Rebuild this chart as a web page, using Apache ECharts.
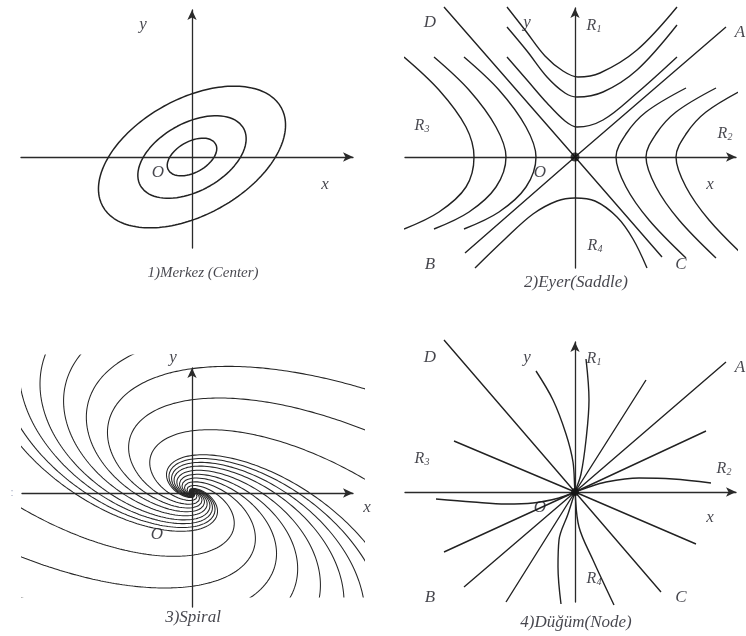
<!DOCTYPE html>
<html>
<head>
<meta charset="utf-8">
<script src="https://cdn.jsdelivr.net/npm/echarts@6/dist/echarts.min.js"></script>
<style>
html, body { margin: 0; padding: 0; background: #ffffff; }
#chart { width: 746px; height: 636px; }
</style>
</head>
<body>
<div id="chart"></div>
<script>
// ---------- 1) Centre: concentric tilted ellipses around O ----------
const centerSemiMajor = [102, 59, 27];
const centerSemiMinor = [58, 34, 15.5];
const centerTiltDeg = [29, 29, 29];

// ---------- 2) Saddle: separatrices and hyperbolic trajectories ----------
const saddleSeparatrices = [
  [[151, 130], [0, 0], [-110, -96]],   // A - B
  [[-131, 150], [0, 0], [87, -100]]    // D - C
];
const saddleR1 = [
  [[-68, 150], [-50, 127], [-30, 101], [-12, 86], [3, 80], [25, 84], [62, 107], [102, 150]],
  [[-68, 130], [-48, 106], [-28, 80], [-10, 64], [2, 60], [28, 65], [62, 87], [102, 132]],
  [[-68, 100], [-48, 77], [-28, 54], [-10, 36], [2, 30], [28, 37], [62, 64], [102, 100]]
];
const saddleR2 = [
  [[111, 69], [71, 45], [51, 23], [41, 0], [51, -30], [74, -63], [111, -101]],
  [[141, 69], [101, 45], [81, 23], [71, 0], [81, -30], [104, -63], [141, -101]],
  [[171, 69], [131, 45], [111, 23], [101, 0], [111, -30], [134, -63], [171, -101]]
];
const saddleR3 = [
  [[-171, 100], [-136, 67], [-109, 30], [-101, 0], [-109, -30], [-136, -55], [-171, -72]],
  [[-141, 100], [-106, 67], [-79, 30], [-69, 0], [-79, -30], [-106, -55], [-141, -72]],
  [[-111, 100], [-76, 67], [-49, 30], [-39, 0], [-49, -30], [-76, -55], [-111, -72]]
];
const saddleR4 = [
  [[-100, -111], [-70, -82], [-42, -57], [-18, -44], [0, -41], [20, -44], [42, -60], [58, -82], [72, -111]]
];

// ---------- 3) Spiral: radii where each arm has its leftmost point ----------
const spiralLeftRadii = [52, 78, 104, 130, 158, 187, 213, 240, 266];
const spiralPitch = 0.68;          // decay per radian
const spiralFrameTiltDeg = -24;    // long axis of the loops
const spiralFrameStretch = 1.8;    // long / short axis

// ---------- 4) Node: trajectories through O ----------
const nodeStraight = [
  [[-131, 152], [0, 0], [86, -100]],   // D - C
  [[151, 130], [0, 0], [-111, -95]],   // A - B
  [[71, 112], [0, 0], [-69, -110]],
  [[131, 61], [0, 0], [-131, -60]],
  [[-121, 51], [0, 0], [121, -52]]
];
const nodeCurved = [
  [[-39, 121], [-22, 92], [-9, 58], [-2, 30], [0, 0], [4, -35], [18, -68], [39, -113]],
  [[11, 133], [14, 92], [11, 52], [6, 18], [0, 0], [-7, -22], [-16, -48], [-17, -75], [-14, -112]],
  [[136, 9], [98, 13], [64, 14], [31, 10], [11, 4], [0, 0], [-16, -6], [-42, -11], [-69, -12], [-102, -10], [-139, -7]]
];

// ---------- Text ----------
const centerLabels = [
  { text: 'y', pos: [-49, 132] },
  { text: 'O', pos: [-34, -16] },
  { text: 'x', pos: [133, -28] },
  { text: '1)Merkez (Center)', pos: [11, -116], caption: 15 }
];
const saddleLabels = [
  { text: 'D', pos: [-145, 134] },
  { text: 'y', pos: [-48, 134] },
  { text: '{r|R}{s|1}', pos: [19, 132] },
  { text: 'A', pos: [165, 124] },
  { text: '{r|R}{s|3}', pos: [-153, 32] },
  { text: '{r|R}{s|2}', pos: [150, 24] },
  { text: 'O', pos: [-35, -16] },
  { text: 'x', pos: [135, -28] },
  { text: '{r|R}{s|4}', pos: [20, -88] },
  { text: 'B', pos: [-145, -108] },
  { text: 'C', pos: [106, -108] },
  { text: '2)Eyer(Saddle)', pos: [1, -126], caption: 17 }
];
const spiralLabels = [
  { text: 'y', pos: [-19, 135] },
  { text: 'x', pos: [175, -15] },
  { text: 'O', pos: [-35, -42] },
  { text: '3)Spiral', pos: [1, -125], caption: 17 }
];
const nodeLabels = [
  { text: 'D', pos: [-145, 134] },
  { text: 'y', pos: [-48, 134] },
  { text: '{r|R}{s|1}', pos: [19, 134] },
  { text: 'A', pos: [165, 124] },
  { text: '{r|R}{s|3}', pos: [-153, 34] },
  { text: '{r|R}{s|2}', pos: [149, 24] },
  { text: 'O', pos: [-35, -16] },
  { text: 'x', pos: [135, -26] },
  { text: '{r|R}{s|4}', pos: [19, -86] },
  { text: 'B', pos: [-145, -106] },
  { text: 'C', pos: [106, -106] },
  { text: '4)Düğüm(Node)', pos: [1, -131], caption: 17 }
];

// ---------- Layout: one grid per panel, one data unit per pixel ----------
const panels = [
  { left: 21,  top: 10,  width: 332, height: 238, x: [-171, 161], y: [-91, 147], axes: true },
  { left: 405, top: 8,   width: 331, height: 260, x: [-170, 161], y: [-111, 149], axes: true },
  { left: 22,  top: 368, width: 331, height: 239, x: [-170, 161], y: [-114, 125], axes: true },
  { left: 22,  top: 355, width: 341, height: 242, x: [-170, 171], y: [-104, 138], axes: false },
  { left: 405, top: 342, width: 331, height: 260, x: [-170, 161], y: [-110, 150], axes: true }
];

const INK = '#222222';
const TEXT = '#16161f';
const SERIF = '"Liberation Serif", "Times New Roman", serif';

function axisOf(gi, range, show) {
  return {
    gridIndex: gi, type: 'value', min: range[0], max: range[1], show: show,
    axisLine: {
      show: show, onZero: true, symbol: ['none', 'arrow'], symbolSize: [7, 10],
      lineStyle: { color: '#2a2a2a', width: 1.3 }
    },
    axisTick: { show: false }, axisLabel: { show: false }, splitLine: { show: false }
  };
}

const series = [];

function curve(gi, pts, opts) {
  series.push(Object.assign({
    type: 'line', xAxisIndex: gi, yAxisIndex: gi, data: pts,
    symbol: 'none', clip: false, silent: true,
    lineStyle: { color: INK, width: 1.4 }
  }, opts || {}));
}

// Panel 1 ellipses
centerSemiMajor.forEach((a, i) => {
  const b = centerSemiMinor[i];
  const t = centerTiltDeg[i] * Math.PI / 180;
  const pts = [];
  for (let k = 0; k <= 360; k += 2) {
    const u = k * Math.PI / 180;
    pts.push([a * Math.cos(u) * Math.cos(t) - b * Math.sin(u) * Math.sin(t),
              a * Math.cos(u) * Math.sin(t) + b * Math.sin(u) * Math.cos(t)]);
  }
  curve(0, pts, { lineStyle: { color: INK, width: 1.5 } });
});

// Panel 2 saddle
saddleSeparatrices.forEach(p => curve(1, p));
[saddleR1, saddleR2, saddleR3, saddleR4].forEach(group =>
  group.forEach(p => curve(1, p, { smooth: 0.35 })));
series.push({ type: 'scatter', xAxisIndex: 1, yAxisIndex: 1, data: [[0, 0]], symbolSize: 9,
  itemStyle: { color: '#111' }, silent: true, z: 5 });

// Panel 3 spiral arms: logarithmic spiral in a stretched, tilted frame,
// in point-symmetric pairs, clipped to the drawing window
(function () {
  const a = spiralFrameTiltDeg * Math.PI / 180, ca = Math.cos(a), sa = Math.sin(a);
  const m11 = spiralFrameStretch * ca, m12 = -sa, m21 = spiralFrameStretch * sa, m22 = ca;
  const k = spiralPitch;
  const thL = Math.atan2(m12, m11) + Math.PI - Math.atan(k);
  const s = Math.hypot(m11 * Math.cos(thL) + m12 * Math.sin(thL), m21 * Math.cos(thL) + m22 * Math.sin(thL));
  spiralLeftRadii.forEach(r => [1, -1].forEach(sg => {
    const pts = [];
    let th = thL - Math.log(900 / r) / k;
    const thEnd = thL + Math.log(r / 0.2) / k;
    while (th <= thEnd) {
      const rho = (r / s) * Math.exp(-k * (th - thL));
      const u = rho * Math.cos(th), w = rho * Math.sin(th);
      pts.push([sg * (m11 * u + m12 * w), sg * (m21 * u + m22 * w)]);
      th += Math.min(0.06, Math.max(0.003, 0.8 / (rho * spiralFrameStretch)));
    }
    series.push({
      type: 'line', xAxisIndex: 3, yAxisIndex: 3, data: pts, symbol: 'none',
      clip: true, silent: true, lineStyle: { color: '#262626', width: 1.05 }
    });
  }));
})();

// Panel 4 node
nodeStraight.forEach(p => curve(4, p));
nodeCurved.forEach(p => curve(4, p, { smooth: 0.35 }));
series.push({ type: 'scatter', xAxisIndex: 4, yAxisIndex: 4, data: [[0, 0]], symbolSize: 8,
  itemStyle: { color: '#111' }, silent: true, z: 5 });

// Labels, placed in each panel's data coordinates
const rich = {
  r: { fontFamily: SERIF, fontStyle: 'italic', fontSize: 16, lineHeight: 18, verticalAlign: 'bottom', color: TEXT },
  s: { fontFamily: SERIF, fontStyle: 'italic', fontSize: 10, lineHeight: 8, verticalAlign: 'bottom', color: TEXT }
};
function labels(gi, list) {
  series.push({
    type: 'scatter', xAxisIndex: gi, yAxisIndex: gi, symbolSize: 0, clip: false, silent: true, z: 10,
    data: list.map(l => ({
      value: l.pos, name: l.text,
      label: l.caption ? { fontSize: l.caption } : {}
    })),
    label: {
      show: true, position: 'inside', formatter: p => p.name,
      fontFamily: SERIF, fontStyle: 'italic', fontSize: 17, color: TEXT,
      align: 'center', verticalAlign: 'middle', rich: rich
    }
  });
}
labels(0, centerLabels);
labels(1, saddleLabels);
labels(2, spiralLabels);
labels(4, nodeLabels);

// stray marks at the spiral panel's left margin
series.push({
  type: 'scatter', xAxisIndex: 2, yAxisIndex: 2, symbolSize: 0, clip: false, silent: true,
  data: [{ value: [-180, 0], name: ':' }],
  label: { show: true, position: 'inside', formatter: p => p.name, fontSize: 11, color: '#8a93b0' }
});

const chart = echarts.init(document.getElementById('chart'), null, { renderer: 'canvas' });
chart.setOption({
  animation: false,
  backgroundColor: '#ffffff',
  grid: panels.map(p => ({ left: p.left, top: p.top, width: p.width, height: p.height, containLabel: false })),
  xAxis: panels.map((p, i) => axisOf(i, p.x, p.axes)),
  yAxis: panels.map((p, i) => axisOf(i, p.y, p.axes)),
  series: series
});
</script>
</body>
</html>
